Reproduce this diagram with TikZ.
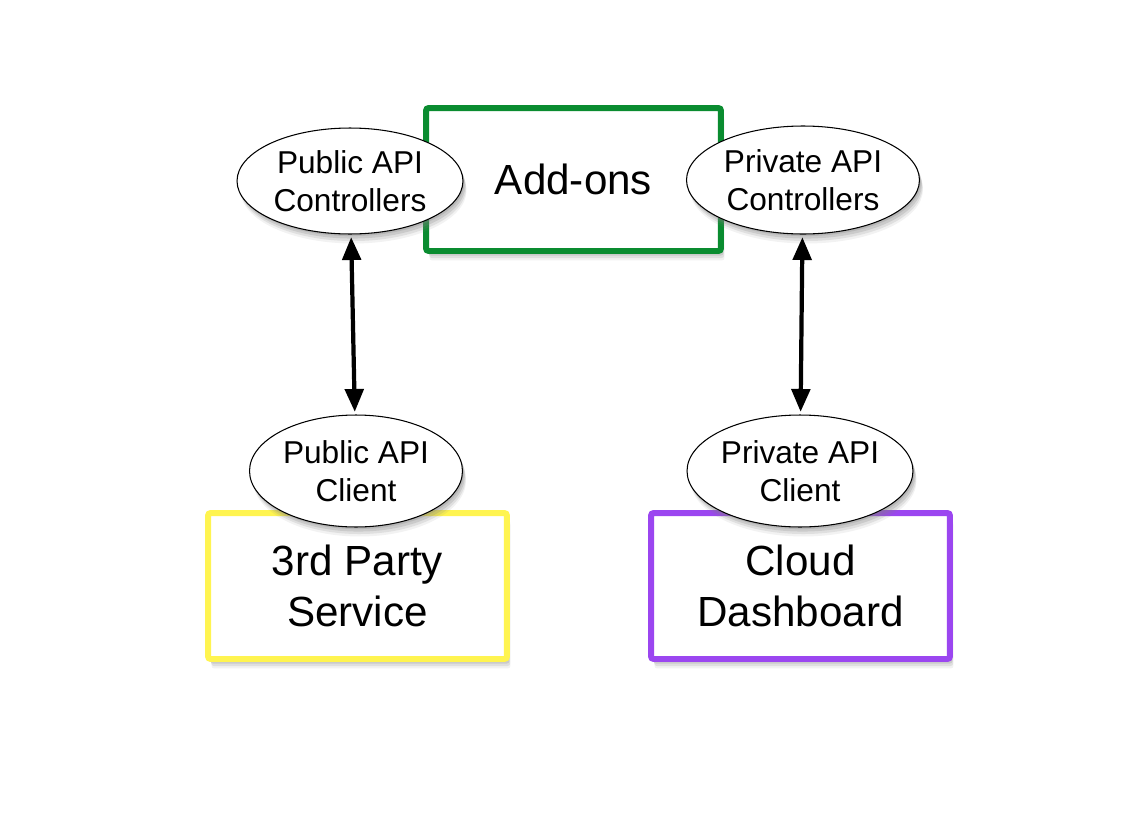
\documentclass[tikz,border=0pt]{standalone}
\usepackage{fontspec}
\setmainfont{Liberation Sans}
\usetikzlibrary{arrows.meta,shapes,shadows,positioning}
\definecolor{addgreen}{RGB}{10,140,48}
\definecolor{svcyellow}{RGB}{255,244,80}
\definecolor{dashpurple}{RGB}{155,70,240}
\tikzset{
arc/.style={{Triangle[length=13pt,width=10.5pt]}-{Triangle[length=13pt,width=10.5pt]},shorten >=1.5pt,shorten <=1.5pt,line width=2.4pt},
softshadow/.style={drop shadow={opacity=0.25,shadow xshift=0.8pt,shadow yshift=-1.2pt},
  drop shadow={opacity=0.22,shadow xshift=1.4pt,shadow yshift=-2.6pt},
  drop shadow={opacity=0.16,shadow xshift=1.8pt,shadow yshift=-4pt},
  drop shadow={opacity=0.1,shadow xshift=2pt,shadow yshift=-5.4pt}},
api/.style={ellipse,draw,fill=white,line width=0.6pt,inner sep=0pt,align=center,
  font=\fontsize{18}{21.6}\selectfont,softshadow},
comp/.style={rectangle,draw,fill=white,line width=3.4pt,rounded corners=1.5pt,inner sep=0pt,align=center,
  font=\fontsize{24}{28.8}\selectfont,softshadow}
}

\begin{document}
\begin{tikzpicture}[x=0.02cm,y=-0.02cm]
	\fill[white] (0,0) rectangle (1134,829);
	\useasboundingbox (0,0) rectangle (1134,829);
	% components
	\node[comp,draw=addgreen,minimum width=5.9cm,minimum height=2.86cm] (addons) at (573.5,179.5) {Add-ons};
	\node[comp,draw=svcyellow,minimum width=5.98cm,minimum height=2.92cm] (service) at (357.5,586) {3rd Party\\Service};
	\node[comp,draw=dashpurple,minimum width=5.98cm,minimum height=2.92cm] (dashboard) at (800.5,586) {Cloud\\Dashboard};

	% api ellipses
	\node[api,minimum width=4.52cm,minimum height=2.12cm] (pubctl) at (350,181) {Public API\\Controllers};
	\node[api,minimum width=4.66cm,minimum height=2.16cm] (privctl) at (803,180) {Private API\\Controllers};
	\node[api,minimum width=4.26cm,minimum height=2.24cm] (pubcli) at (356,471) {Public API\\Client};
	\node[api,minimum width=4.52cm,minimum height=2.24cm] (privcli) at (800,471) {Private API\\Client};

	% arrows
	\draw[arc] (pubctl) -- (pubcli);
	\draw[arc] (privctl) -- (privcli);
\end{tikzpicture}
\end{document}
